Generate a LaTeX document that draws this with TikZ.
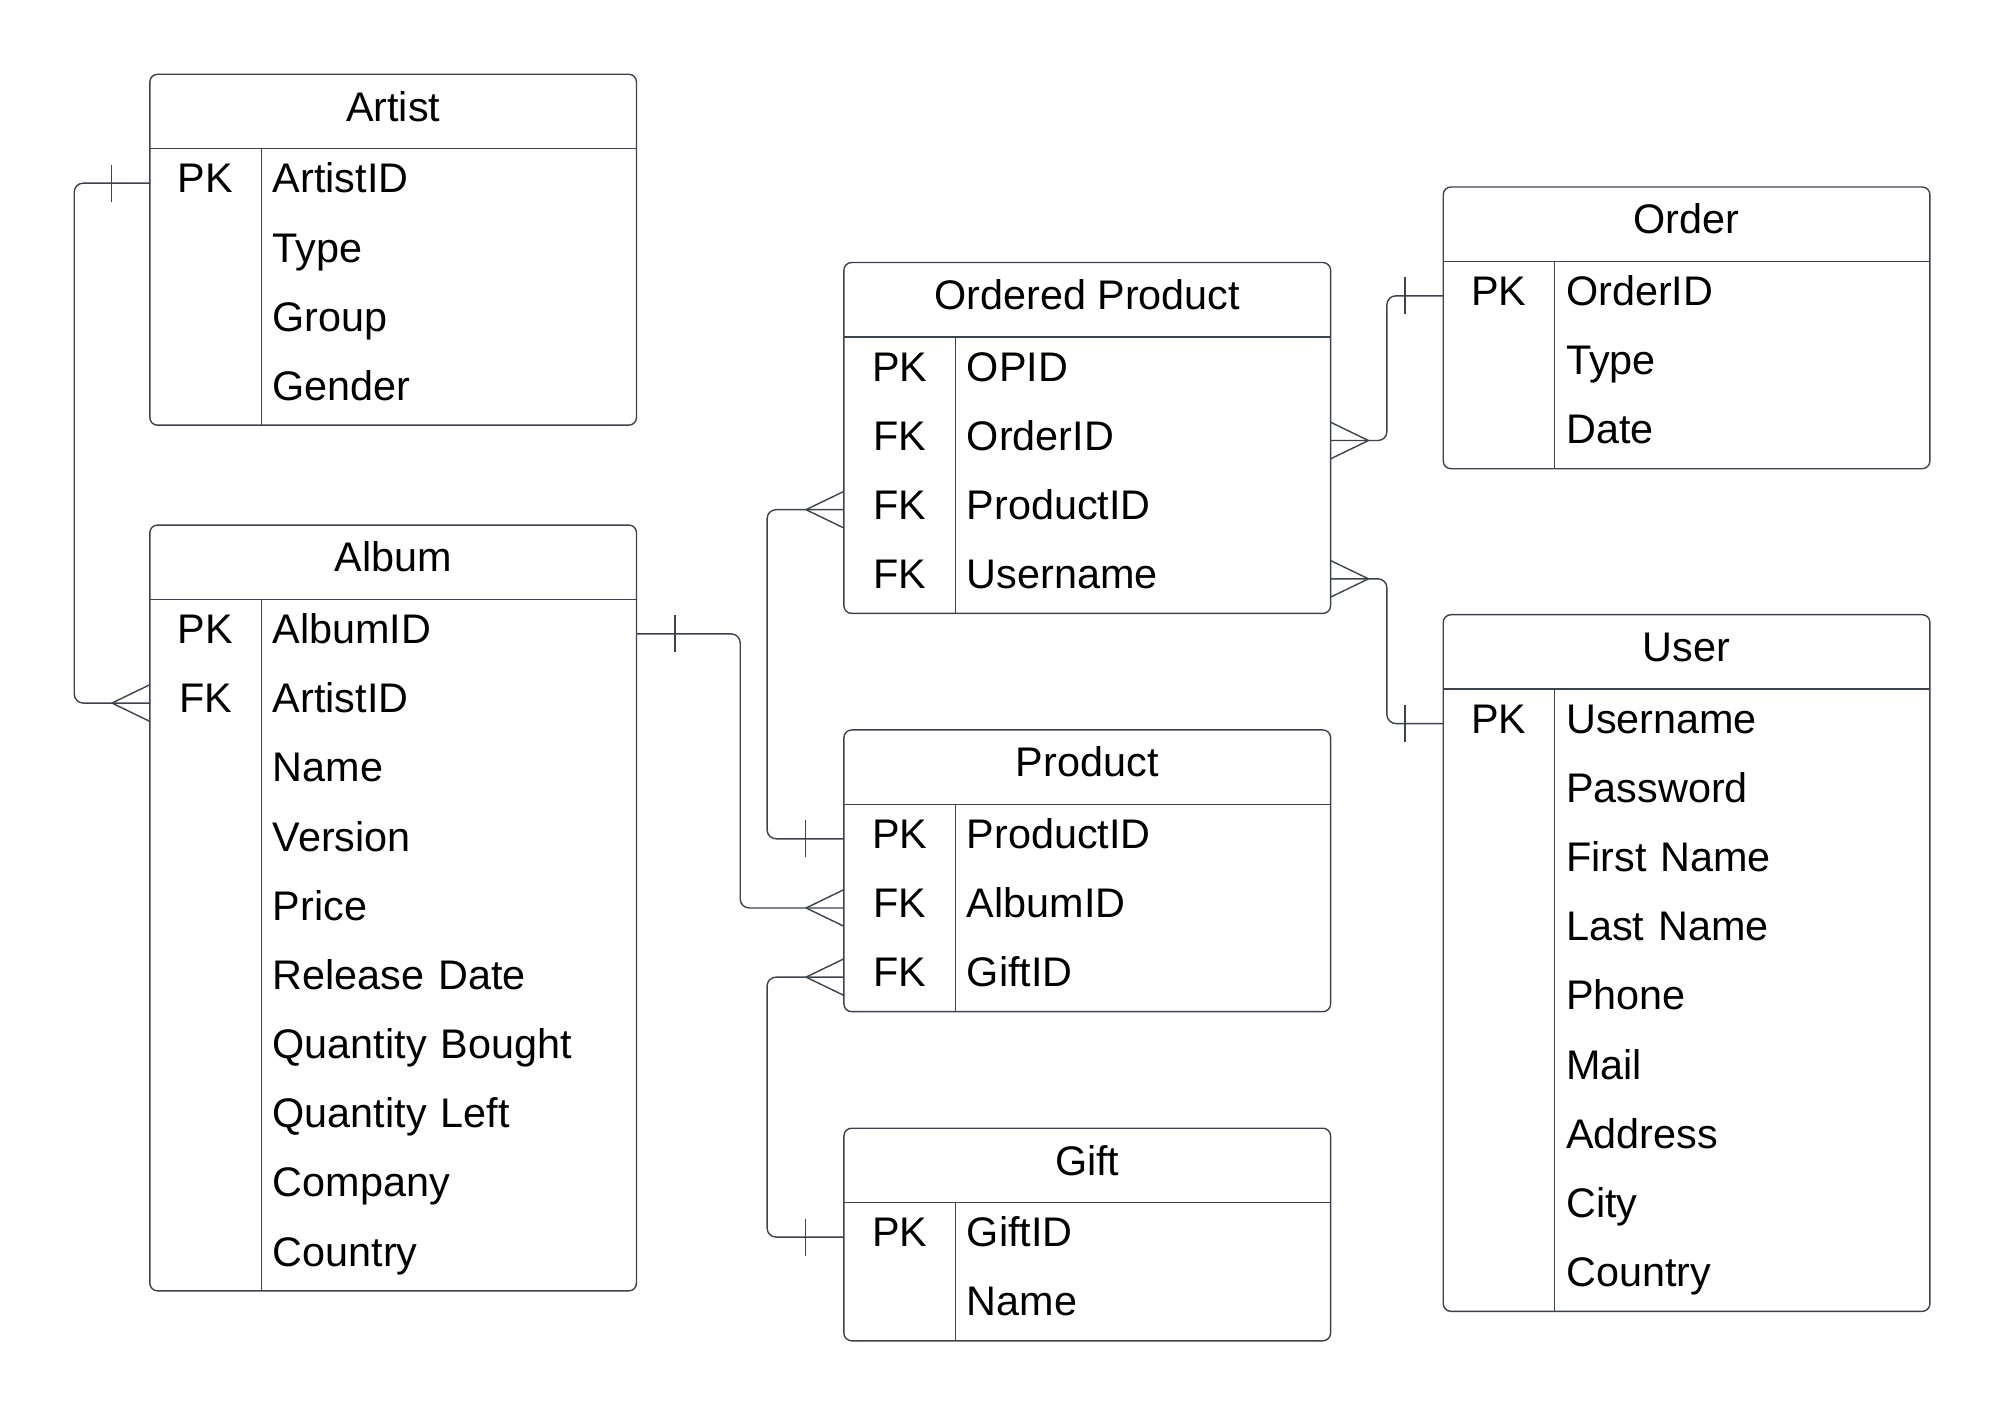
\documentclass[tikz,border=0pt]{standalone}
\usepackage{fontspec}
\setmainfont{Liberation Sans}
\usetikzlibrary{positioning, fit}
\definecolor{erline}{RGB}{61,67,77}

\begin{document}
\begin{tikzpicture}[x=1pt, y=-1pt, node distance=0pt, line width=1.1pt, line join=round,
	every node/.style={font=\fontsize{32.3}{38}\selectfont, outer sep=0pt},
	headcell/.style={minimum width=380pt, inner sep=0pt, text height=36.6pt, text depth=21.4pt},
	keycell/.style={minimum width=87pt, inner sep=0pt, text height=34.6pt, text depth=19.4pt},
	fieldcell/.style={text width=275pt, align=left, inner xsep=9pt, inner ysep=0pt, text height=34.6pt, text depth=19.4pt},
	tbox/.style={draw=erline, rounded corners=6pt, inner sep=0pt},
	link/.style={draw=erline, rounded corners=7pt},
	crow/.style={draw=erline}]
			\useasboundingbox (0,0) rectangle (1568,1107);
			
			\node[headcell] (art) at (307,87) {Artist};
			\node[keycell] (artk1) [below right=0pt and 0pt of art.south west] {PK};
			\node[fieldcell] (artf1) [right=of artk1] {ArtistID};
			\node[keycell] (artk2) [below=of artk1] {};
			\node[fieldcell] (artf2) [right=of artk2] {Type};
			\node[keycell] (artk3) [below=of artk2] {};
			\node[fieldcell] (artf3) [right=of artk3] {Group};
			\node[keycell] (artk4) [below=of artk3] {};
			\node[fieldcell] (artf4) [right=of artk4] {Gender};
			\node[tbox, fit=(art)(artk4)(artf4)] (artbox) {};
			\draw[erline] (art.south west) -- (art.south east);
			\draw[erline] (artk1.north east) -- (artk4.south east);
			
			\node[headcell] (alb) at (307,439) {Album};
			\node[keycell] (albk1) [below right=0pt and 0pt of alb.south west] {PK};
			\node[fieldcell] (albf1) [right=of albk1] {AlbumID};
			\node[keycell] (albk2) [below=of albk1] {FK};
			\node[fieldcell] (albf2) [right=of albk2] {ArtistID};
			\node[keycell] (albk3) [below=of albk2] {};
			\node[fieldcell] (albf3) [right=of albk3] {Name};
			\node[keycell] (albk4) [below=of albk3] {};
			\node[fieldcell] (albf4) [right=of albk4] {Version};
			\node[keycell] (albk5) [below=of albk4] {};
			\node[fieldcell] (albf5) [right=of albk5] {Price};
			\node[keycell] (albk6) [below=of albk5] {};
			\node[fieldcell] (albf6) [right=of albk6] {Release Date};
			\node[keycell] (albk7) [below=of albk6] {};
			\node[fieldcell] (albf7) [right=of albk7] {Quantity Bought};
			\node[keycell] (albk8) [below=of albk7] {};
			\node[fieldcell] (albf8) [right=of albk8] {Quantity Left};
			\node[keycell] (albk9) [below=of albk8] {};
			\node[fieldcell] (albf9) [right=of albk9] {Company};
			\node[keycell] (albk10) [below=of albk9] {};
			\node[fieldcell] (albf10) [right=of albk10] {Country};
			\node[tbox, fit=(alb)(albk10)(albf10)] (albbox) {};
			\draw[erline] (alb.south west) -- (alb.south east);
			\draw[erline] (albk1.north east) -- (albk10.south east);
			
			\node[headcell] (op) at (849,234) {Ordered Product};
			\node[keycell] (opk1) [below right=0pt and 0pt of op.south west] {PK};
			\node[fieldcell] (opf1) [right=of opk1] {OPID};
			\node[keycell] (opk2) [below=of opk1] {FK};
			\node[fieldcell] (opf2) [right=of opk2] {OrderID};
			\node[keycell] (opk3) [below=of opk2] {FK};
			\node[fieldcell] (opf3) [right=of opk3] {ProductID};
			\node[keycell] (opk4) [below=of opk3] {FK};
			\node[fieldcell] (opf4) [right=of opk4] {Username};
			\node[tbox, fit=(op)(opk4)(opf4)] (opbox) {};
			\draw[erline] (op.south west) -- (op.south east);
			\draw[erline] (opk1.north east) -- (opk4.south east);
			
			\node[headcell] (pr) at (849,599) {Product};
			\node[keycell] (prk1) [below right=0pt and 0pt of pr.south west] {PK};
			\node[fieldcell] (prf1) [right=of prk1] {ProductID};
			\node[keycell] (prk2) [below=of prk1] {FK};
			\node[fieldcell] (prf2) [right=of prk2] {AlbumID};
			\node[keycell] (prk3) [below=of prk2] {FK};
			\node[fieldcell] (prf3) [right=of prk3] {GiftID};
			\node[tbox, fit=(pr)(prk3)(prf3)] (prbox) {};
			\draw[erline] (pr.south west) -- (pr.south east);
			\draw[erline] (prk1.north east) -- (prk3.south east);
			
			\node[headcell] (gf) at (849,910) {Gift};
			\node[keycell] (gfk1) [below right=0pt and 0pt of gf.south west] {PK};
			\node[fieldcell] (gff1) [right=of gfk1] {GiftID};
			\node[keycell] (gfk2) [below=of gfk1] {};
			\node[fieldcell] (gff2) [right=of gfk2] {Name};
			\node[tbox, fit=(gf)(gfk2)(gff2)] (gfbox) {};
			\draw[erline] (gf.south west) -- (gf.south east);
			\draw[erline] (gfk1.north east) -- (gfk2.south east);
			
			\node[headcell] (ord) at (1317,175) {Order};
			\node[keycell] (ordk1) [below right=0pt and 0pt of ord.south west] {PK};
			\node[fieldcell] (ordf1) [right=of ordk1] {OrderID};
			\node[keycell] (ordk2) [below=of ordk1] {};
			\node[fieldcell] (ordf2) [right=of ordk2] {Type};
			\node[keycell] (ordk3) [below=of ordk2] {};
			\node[fieldcell] (ordf3) [right=of ordk3] {Date};
			\node[tbox, fit=(ord)(ordk3)(ordf3)] (ordbox) {};
			\draw[erline] (ord.south west) -- (ord.south east);
			\draw[erline] (ordk1.north east) -- (ordk3.south east);
			
			\node[headcell] (usr) at (1317,509) {User};
			\node[keycell] (usrk1) [below right=0pt and 0pt of usr.south west] {PK};
			\node[fieldcell] (usrf1) [right=of usrk1] {Username};
			\node[keycell] (usrk2) [below=of usrk1] {};
			\node[fieldcell] (usrf2) [right=of usrk2] {Password};
			\node[keycell] (usrk3) [below=of usrk2] {};
			\node[fieldcell] (usrf3) [right=of usrk3] {First Name};
			\node[keycell] (usrk4) [below=of usrk3] {};
			\node[fieldcell] (usrf4) [right=of usrk4] {Last Name};
			\node[keycell] (usrk5) [below=of usrk4] {};
			\node[fieldcell] (usrf5) [right=of usrk5] {Phone};
			\node[keycell] (usrk6) [below=of usrk5] {};
			\node[fieldcell] (usrf6) [right=of usrk6] {Mail};
			\node[keycell] (usrk7) [below=of usrk6] {};
			\node[fieldcell] (usrf7) [right=of usrk7] {Address};
			\node[keycell] (usrk8) [below=of usrk7] {};
			\node[fieldcell] (usrf8) [right=of usrk8] {City};
			\node[keycell] (usrk9) [below=of usrk8] {};
			\node[fieldcell] (usrf9) [right=of usrk9] {Country};
			\node[tbox, fit=(usr)(usrk9)(usrf9)] (usrbox) {};
			\draw[erline] (usr.south west) -- (usr.south east);
			\draw[erline] (usrk1.north east) -- (usrk9.south east);
			
			\draw[link] (artk1.west) -- ++(-59,0) |- (albk2.west);
			\draw[crow] (artk1.west) ++(-30,-14.5) -- ++(0,29);
			\draw[crow] (albk2.west) ++(0,-14.3) -- ++(-29.6,14.3) -- ++(29.6,14.3);
			
			\draw[link] (albf1.east) -- ++(81,0) |- (prk2.west);
			\draw[crow] (albf1.east) ++(30,-14.5) -- ++(0,29);
			\draw[crow] (prk2.west) ++(0,-14.3) -- ++(-29.6,14.3) -- ++(29.6,14.3);
			
			\draw[link] (prk1.west) -- ++(-60,0) |- (opk3.west);
			\draw[crow] (prk1.west) ++(-30,-14.5) -- ++(0,29);
			\draw[crow] (opk3.west) ++(0,-14.3) -- ++(-29.6,14.3) -- ++(29.6,14.3);
			
			\draw[link] (gfk1.west) -- ++(-60,0) |- (prk3.west);
			\draw[crow] (gfk1.west) ++(-30,-14.5) -- ++(0,29);
			\draw[crow] (prk3.west) ++(0,-14.3) -- ++(-29.6,14.3) -- ++(29.6,14.3);
			
			\draw[link] (opf2.east) -- ++(44,0) |- (ordk1.west);
			\draw[crow] (opf2.east) ++(0,-14.3) -- ++(29.6,14.3) -- ++(-29.6,14.3);
			\draw[crow] (ordk1.west) ++(-30,-14.5) -- ++(0,29);
			
			\draw[link] (opf4.east) -- ++(44,0) |- (usrk1.west);
			\draw[crow] (opf4.east) ++(0,-14.3) -- ++(29.6,14.3) -- ++(-29.6,14.3);
			\draw[crow] (usrk1.west) ++(-30,-14.5) -- ++(0,29);
\end{tikzpicture}
\end{document}
